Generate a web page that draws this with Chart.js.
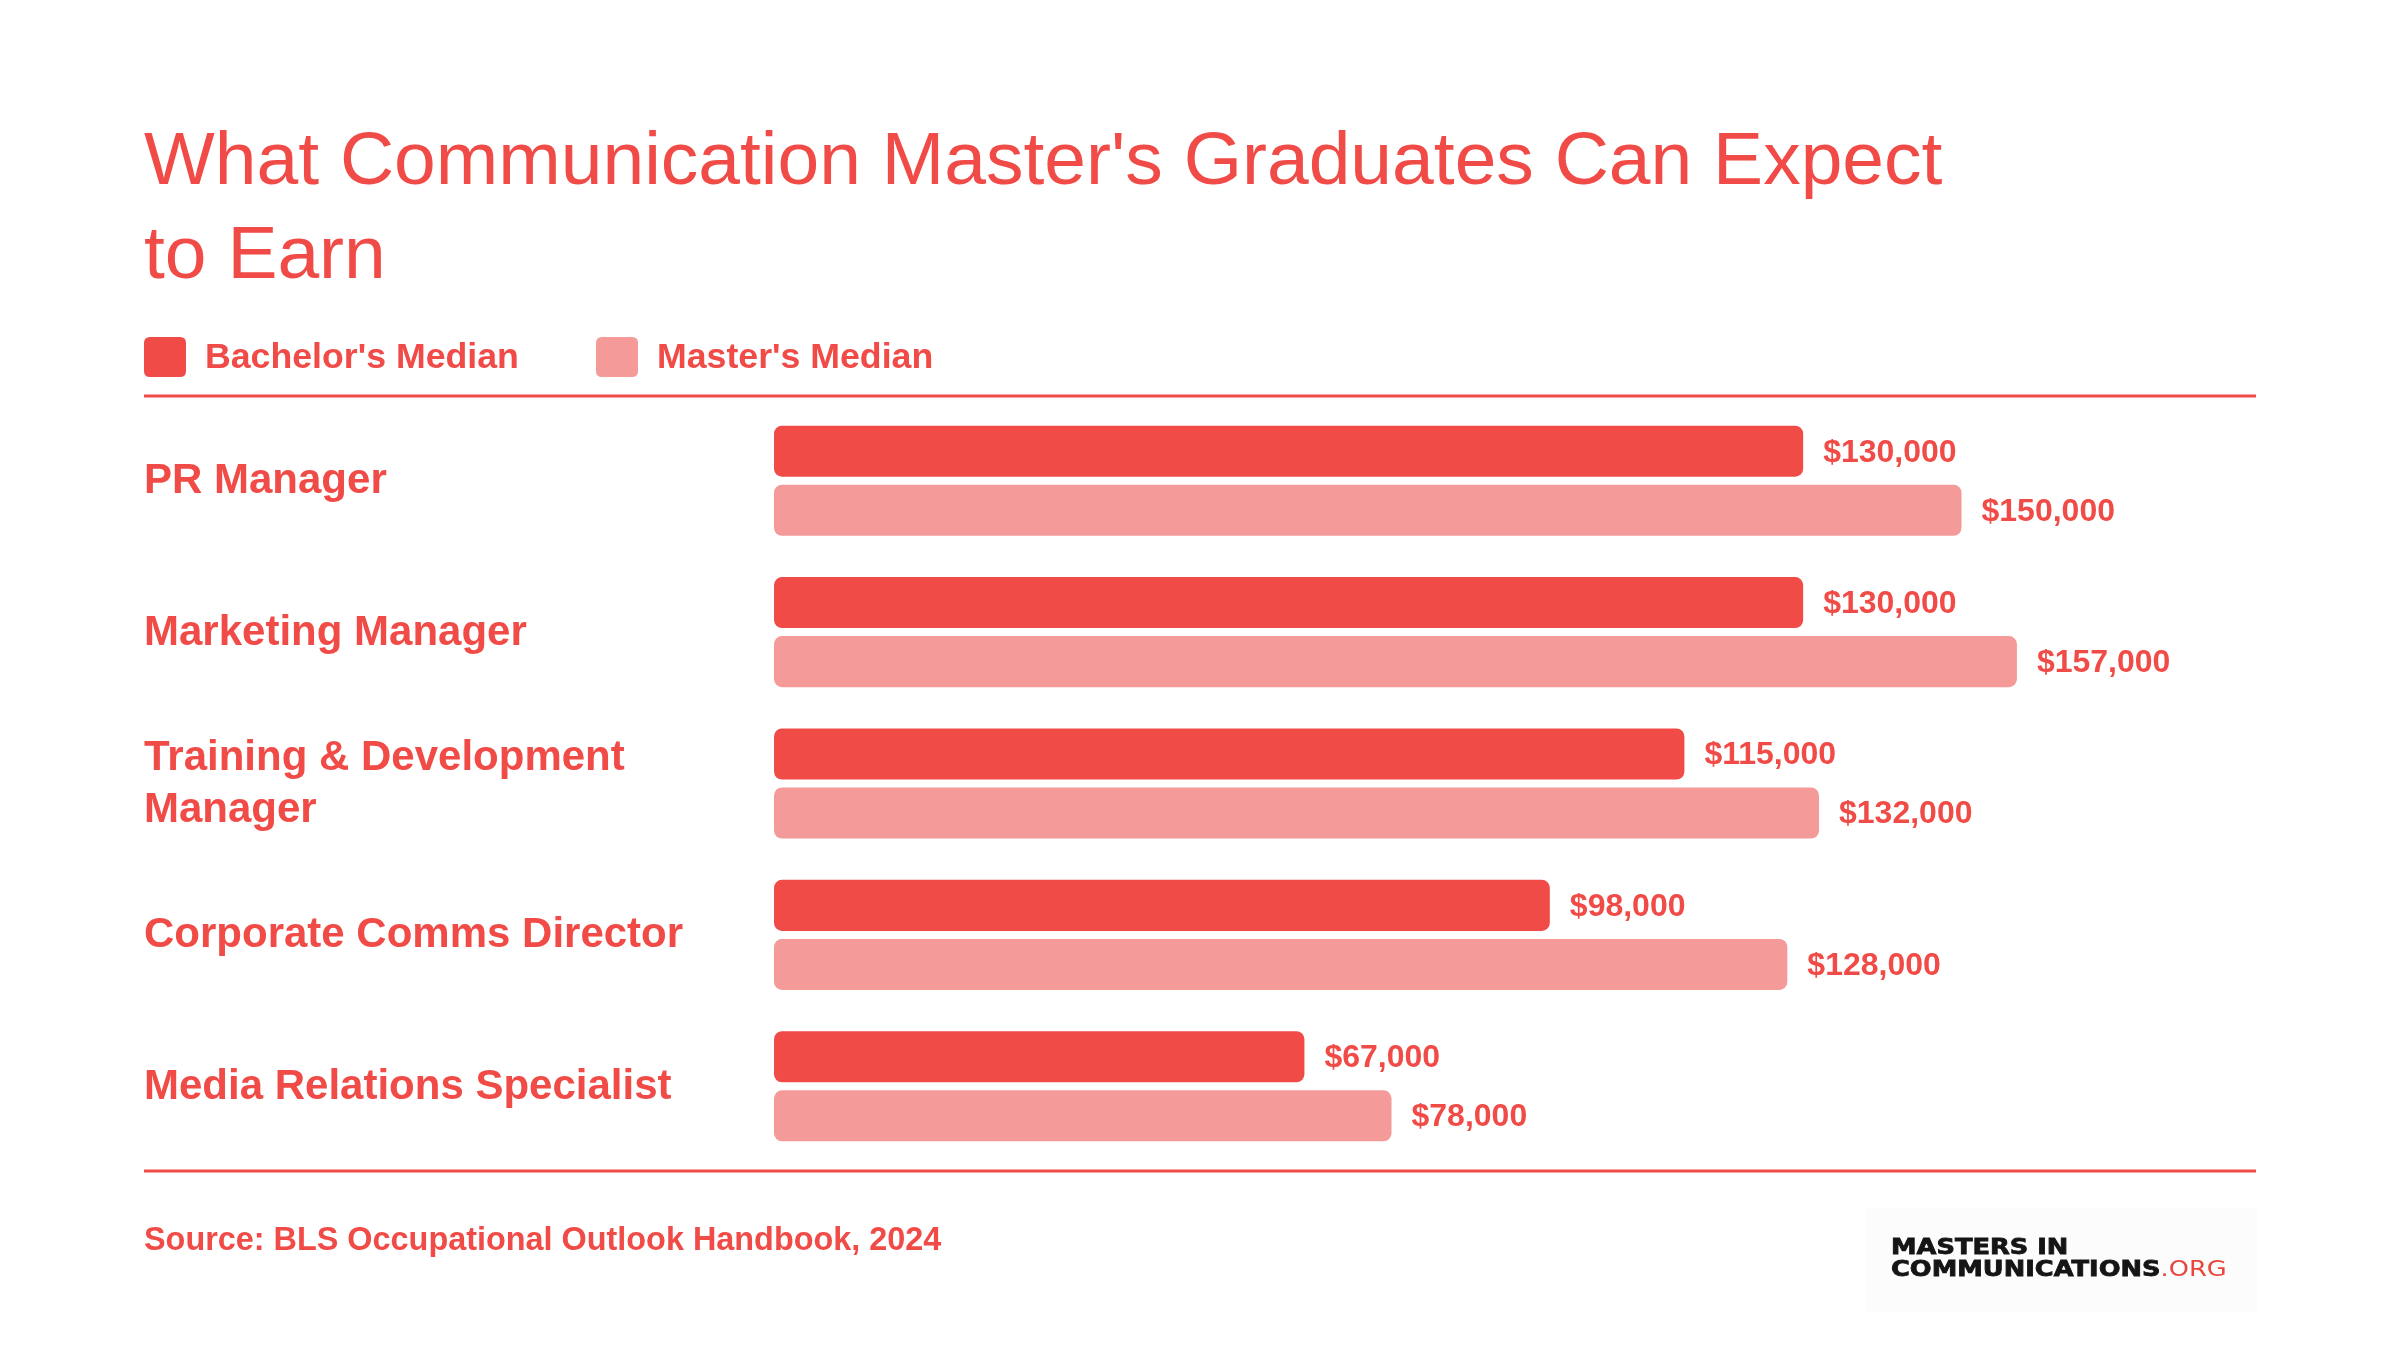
<!DOCTYPE html>
<html>
<head>
<meta charset="utf-8">
<script src="https://cdn.jsdelivr.net/npm/chart.js@4.4.1/dist/chart.umd.min.js"></script>
<style>
  html, body { margin: 0; padding: 0; background: #ffffff; }
  #wrap { width: 2400px; height: 1350px; position: relative; }
</style>
</head>
<body>
<div id="wrap"><canvas id="c"></canvas></div>
<script>
const titleLines = ["What Communication Master's Graduates Can Expect", "to Earn"];
const categories = ["PR Manager", "Marketing Manager", ["Training & Development", "Manager"], "Corporate Comms Director", "Media Relations Specialist"];
const seriesNames = ["Bachelor's Median", "Master's Median"];
const bachelorValues = [130000, 130000, 115000, 98000, 67000];
const masterValues = [150000, 157000, 132000, 128000, 78000];
const sourceText = "Source: BLS Occupational Outlook Handbook, 2024";
const logoLines = ["MASTERS IN", "COMMUNICATIONS", ".ORG"];

const RED = '#F04B47';
const PINK = '#F49A98';
const FONT = '"Liberation Sans", Arial, sans-serif';

function fmt(v) { return '$' + v.toLocaleString('en-US'); }

function roundRect(ctx, x, y, w, h, r) {
  ctx.beginPath();
  ctx.moveTo(x + r, y);
  ctx.lineTo(x + w - r, y);
  ctx.quadraticCurveTo(x + w, y, x + w, y + r);
  ctx.lineTo(x + w, y + h - r);
  ctx.quadraticCurveTo(x + w, y + h, x + w - r, y + h);
  ctx.lineTo(x + r, y + h);
  ctx.quadraticCurveTo(x, y + h, x, y + h - r);
  ctx.lineTo(x, y + r);
  ctx.quadraticCurveTo(x, y, x + r, y);
  ctx.closePath();
}

const decor = {
  id: 'decor',
  afterDraw(chart) {
    const ctx = chart.ctx;
    ctx.save();
    // title
    ctx.fillStyle = RED;
    ctx.textBaseline = 'alphabetic';
    ctx.textAlign = 'left';
    ctx.font = '400 75px ' + FONT;
    ctx.fillText(titleLines[0], 144, 184);
    ctx.fillText(titleLines[1], 144, 278);
    // legend
    const colors = [RED, PINK];
    const sx = [144, 596];
    ctx.font = '700 35.7px ' + FONT;
    ctx.textBaseline = 'middle';
    seriesNames.forEach((n, i) => {
      ctx.fillStyle = colors[i];
      roundRect(ctx, sx[i], 337, 42, 40, 6);
      ctx.fill();
      ctx.fillStyle = RED;
      ctx.fillText(n, sx[i] + 61, 358);
    });
    // rules
    ctx.strokeStyle = RED;
    ctx.lineWidth = 3;
    ctx.beginPath();
    ctx.moveTo(144, 396); ctx.lineTo(2256, 396);
    ctx.moveTo(144, 1171); ctx.lineTo(2256, 1171);
    ctx.stroke();
    // value labels
    ctx.font = '700 32px ' + FONT;
    ctx.fillStyle = RED;
    ctx.textBaseline = 'middle';
    chart.data.datasets.forEach((ds, di) => {
      const meta = chart.getDatasetMeta(di);
      meta.data.forEach((bar, i) => {
        ctx.fillText(fmt(ds.data[i]), bar.x + 20, bar.y + 1.5);
      });
    });
    // source
    ctx.textBaseline = 'alphabetic';
    ctx.font = '700 32.4px ' + FONT;
    ctx.fillText(sourceText, 144, 1250);
    // logo
    ctx.fillStyle = '#fcfcfc';
    ctx.fillRect(1865, 1208, 392, 104);
    ctx.font = '700 21px "DejaVu Sans", sans-serif';
    const w1 = ctx.measureText(logoLines[1] + logoLines[2]).width;
    const s = 342 / w1;
    ctx.save();
    ctx.translate(1891, 0);
    ctx.scale(s, 1);
    ctx.fillStyle = '#151515';
    ctx.strokeStyle = '#151515';
    ctx.lineWidth = 0.8;
    ctx.fillText(logoLines[0], 0, 1254);
    ctx.strokeText(logoLines[0], 0, 1254);
    ctx.fillText(logoLines[1], 0, 1276);
    ctx.strokeText(logoLines[1], 0, 1276);
    const wc = ctx.measureText(logoLines[1]).width;
    ctx.fillStyle = '#E8453C';
    ctx.font = '400 21px "DejaVu Sans", sans-serif';
    ctx.fillText(logoLines[2], wc, 1276);
    ctx.restore();
    ctx.restore();
  }
};

new Chart(document.getElementById('c'), {
  type: 'bar',
  data: {
    labels: categories,
    datasets: [
      { label: seriesNames[0], data: bachelorValues, backgroundColor: RED },
      { label: seriesNames[1], data: masterValues, backgroundColor: PINK }
    ]
  },
  options: {
    indexAxis: 'y',
    responsive: true,
    maintainAspectRatio: false,
    devicePixelRatio: 1,
    animation: false,
    events: [],
    layout: { padding: { top: 405, bottom: 188, left: 144, right: 201 } },
    datasets: {
      bar: {
        categoryPercentage: 0.78,
        barPercentage: 0.864,
        borderRadius: 8,
        borderSkipped: false
      }
    },
    scales: {
      x: { display: false, min: 0, max: 180000 },
      y: {
        afterFit(scale) { scale.width = 630; },
        grid: { display: false },
        border: { display: false },
        ticks: {
          crossAlign: 'far',
          color: RED,
          padding: 0,
          labelOffset: 1,
          font: { family: FONT, size: 42, weight: '700', lineHeight: 1.22 }
        }
      }
    },
    plugins: {
      legend: { display: false },
      title: { display: false },
      tooltip: { enabled: false }
    }
  },
  plugins: [decor]
});
</script>
</body>
</html>
